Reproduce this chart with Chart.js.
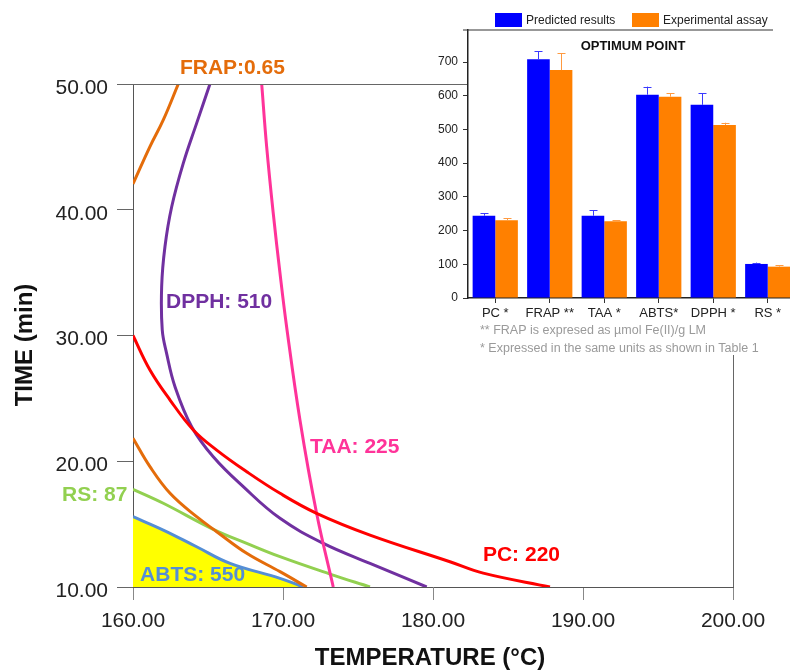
<!DOCTYPE html>
<html>
<head>
<meta charset="utf-8">
<script src="https://cdn.jsdelivr.net/npm/chart.js@4.4.1/dist/chart.umd.min.js"></script>
<style>
  html,body{margin:0;padding:0;background:#fff;overflow:hidden}
  #wrap{position:relative;width:790px;height:671px;overflow:hidden}
  #main{position:absolute;left:0;top:0}
  #inset{position:absolute;left:430px;top:0}
</style>
</head>
<body>
<div id="wrap">
  <canvas id="main" width="790" height="671"></canvas>
  <canvas id="inset" width="400" height="365"></canvas>
</div>
<script>
// ===================== DATA =====================
// contour curves (temperature °C, time min)
const pcTemp   = [160, 161.13, 162.47, 164.02, 165.58, 167.58, 169.8, 172.24, 175.8, 181.13, 183.35, 187.8];
const pcTime   = [30, 27.26, 24.87, 22.49, 20.89, 19.17, 17.45, 15.86, 14.13, 12.01, 11.1, 10];
const dpphTemp = [165.13, 164.24, 163.35, 162.58, 162.13, 161.91, 161.95, 162.24, 162.8, 163.91, 165.35, 167.35, 169.8, 172.69, 175.8, 179.58];
const dpphTime = [50, 46.87, 43.69, 40.24, 37.06, 33.88, 30.44, 28.58, 25.93, 22.75, 20.36, 17.98, 15.46, 13.47, 11.88, 10];
const taaTemp  = [168.58, 168.91, 169.35, 169.8, 170.24, 171.13, 172.24, 173.35];
const taaTime  = [50, 45.02, 39.72, 34.95, 30.7, 23.28, 15.86, 10];
const frapUpTemp = [160, 161.13, 162.02, 163.02];
const frapUpTime = [42.05, 45.02, 47.14, 50];
const frapLoTemp = [160, 161.13, 162.47, 164.24, 165.58, 167.58, 169.8, 171.58];
const frapLoTime = [21.83, 19.57, 17.45, 15.59, 14.4, 12.68, 11.22, 10];
const rsTemp   = [160, 162.02, 165.35, 167.58, 169.8, 173.13, 175.8];
const rsTime   = [17.77, 16.66, 14.59, 13.47, 12.41, 11.03, 10];
const abtsTemp = [160, 162.02, 164.24, 166.47, 169.8, 171.35];
const abtsTime = [15.59, 14.53, 13.2, 11.88, 10.69, 10];

const xTicks = [160, 170, 180, 190, 200];
const yTicks = [10, 20, 30, 40, 50];

// inset: optimum point
const cats      = ['PC *', 'FRAP **', 'TAA *', 'ABTS*', 'DPPH *', 'RS *'];
const predicted = [244, 708, 244, 603, 573, 101];
const predErr   = [251, 732, 261, 627, 607, 105];
const experim   = [231, 676, 228, 597, 513, 93];
const expErr    = [236, 726, 230, 607, 520, 97];
const insetTicks = [0, 100, 200, 300, 400, 500, 600, 700];

const FONT = '"Liberation Sans", Arial, sans-serif';
const pts = (xs, ys) => xs.map((x, i) => ({x, y: ys[i]}));

// contour labels: text, colour, anchor in data coords (left / middle)
const curveLabels = [
  {t:'FRAP:0.65', c:'#e46c0a', x:163.13, y:51.27},
  {t:'DPPH: 510', c:'#7030a0', x:162.2,  y:32.66},
  {t:'TAA: 225',  c:'#ff3399', x:171.8,  y:21.13},
  {t:'RS: 87',    c:'#92d050', x:155.27, y:17.3},
  {t:'ABTS: 550', c:'#558ed5', x:160.47, y:10.95},
  {t:'PC: 220',   c:'#ff0000', x:183.33, y:12.54}
];

// ===================== MAIN CHART =====================
const line = (data, color, extra) => Object.assign({
  data, borderColor: color, borderWidth: 3, pointRadius: 0,
  tension: 0.4, fill: false
}, extra || {});

const mainDecor = {
  id: 'mainDecor',
  afterDatasetsDraw(chart){
    const {ctx, chartArea:a, scales:{x, y}} = chart;
    ctx.save();
    ctx.strokeStyle = '#666'; ctx.lineWidth = 1;
    ctx.beginPath();
    ctx.moveTo(a.left, a.top + .5); ctx.lineTo(a.right, a.top + .5);
    ctx.moveTo(a.right + .5, a.top); ctx.lineTo(a.right + .5, a.bottom);
    ctx.stroke();
    ctx.font = 'bold 21px ' + FONT;
    ctx.textBaseline = 'middle'; ctx.textAlign = 'left';
    curveLabels.forEach(l => {
      ctx.fillStyle = l.c;
      ctx.fillText(l.t, x.getPixelForValue(l.x), y.getPixelForValue(l.y));
    });
    // axis titles
    ctx.fillStyle = '#111';
    ctx.font = 'bold 24px ' + FONT;
    ctx.textAlign = 'center';
    ctx.fillText('TEMPERATURE (°C)', 430, 658);
    ctx.translate(25, 345); ctx.rotate(-Math.PI / 2);
    ctx.fillText('TIME (min)', 0, 0);
    ctx.restore();
  }
};

new Chart(document.getElementById('main'), {
  type: 'line',
  data: {
    datasets: [
      line(pts(pcTemp, pcTime), '#ff0000'),
      line(pts(taaTemp, taaTime), '#ff3399'),
      line(pts(dpphTemp, dpphTime), '#7030a0'),
      line(pts(frapUpTemp, frapUpTime), '#e46c0a'),
      line(pts(frapLoTemp, frapLoTime), '#e46c0a'),
      line(pts(rsTemp, rsTime), '#92d050'),
      line(pts(abtsTemp, abtsTime), '#558ed5', {fill: 'start', backgroundColor: '#ffff00'})
    ]
  },
  options: {
    responsive: false, animation: false,
    layout: {padding: {left: 0, top: 84, right: 57, bottom: 0}},
    plugins: {legend: {display: false}, tooltip: {enabled: false}},
    scales: {
      x: {
        type: 'linear', min: 160, max: 200,
        afterFit: s => { s.height = 84; },
        afterBuildTicks: s => { s.ticks = xTicks.map(v => ({value: v})); },
        ticks: {callback: v => v.toFixed(2), color: '#222', font: {family: FONT, size: 21}, padding: 9, maxRotation: 0},
        grid: {drawOnChartArea: false, tickLength: 13, color: '#888'},
        border: {color: '#555', width: 1}
      },
      y: {
        type: 'linear', min: 10, max: 50,
        afterFit: s => { s.width = 133; },
        afterBuildTicks: s => { s.ticks = yTicks.map(v => ({value: v})); },
        ticks: {callback: v => v.toFixed(2), color: '#222', font: {family: FONT, size: 21}, padding: 9, labelOffset: 4},
        grid: {drawOnChartArea: false, tickLength: 16, color: '#666'},
        border: {color: '#555', width: 1}
      }
    }
  },
  plugins: [mainDecor]
});

// ===================== INSET =====================
const insetDecor = {
  id: 'insetDecor',
  beforeDraw(chart){
    const {ctx, chartArea:a} = chart;
    ctx.save();
    ctx.fillStyle = '#fff';
    ctx.fillRect(a.left, 0, chart.width - a.left, 355);
    ctx.restore();
  },
  afterDatasetsDraw(chart){
    const {ctx, chartArea:a, scales:{y}} = chart;
    ctx.save();
    // error bars
    [[1, experim, expErr, '#ff9a40'], [0, predicted, predErr, '#3a3aff']].forEach(([di, vals, errs, col]) => {
      const meta = chart.getDatasetMeta(di);
      ctx.strokeStyle = col; ctx.lineWidth = 1;
      meta.data.forEach((bar, i) => {
        const xx = Math.round(bar.x) + .5, y0 = y.getPixelForValue(vals[i]), y1 = y.getPixelForValue(errs[i]);
        ctx.beginPath();
        ctx.moveTo(xx, y0); ctx.lineTo(xx, y1);
        ctx.moveTo(xx - 4, Math.round(y1) + .5); ctx.lineTo(xx + 4, Math.round(y1) + .5);
        ctx.stroke();
      });
    });
    // top frame line
    ctx.strokeStyle = '#333'; ctx.lineWidth = 1.2;
    ctx.beginPath(); ctx.moveTo(a.left - 5, a.top); ctx.lineTo(343, a.top); ctx.stroke();
    // title
    ctx.fillStyle = '#111'; ctx.font = 'bold 13px ' + FONT;
    ctx.textAlign = 'center'; ctx.textBaseline = 'middle';
    ctx.fillText('OPTIMUM POINT', 203, 46);
    // legend
    ctx.textAlign = 'left'; ctx.font = '12px ' + FONT;
    [['Predicted results', '#0000ff', 65], ['Experimental assay', '#ff8000', 202]].forEach(([t, c, lx]) => {
      ctx.fillStyle = c; ctx.fillRect(lx, 13, 27, 14);
      ctx.fillStyle = '#222'; ctx.fillText(t, lx + 31, 20.5);
    });
    // footnotes
    ctx.fillStyle = '#9a9a9a'; ctx.font = '12.5px ' + FONT;
    ctx.fillText('** FRAP is expresed as \u00b5mol Fe(II)/g LM', 50, 331);
    ctx.fillText('* Expressed in the same units as shown in Table 1', 50, 349);
    ctx.restore();
  }
};

new Chart(document.getElementById('inset'), {
  type: 'bar',
  data: {
    labels: cats,
    datasets: [
      {label: 'Predicted results', data: predicted, backgroundColor: '#0000ff', categoryPercentage: 0.83, barPercentage: 1},
      {label: 'Experimental assay', data: experim, backgroundColor: '#ff8000', categoryPercentage: 0.83, barPercentage: 1}
    ]
  },
  options: {
    responsive: false, animation: false,
    layout: {padding: {left: 0, top: 30, right: 35, bottom: 0}},
    plugins: {legend: {display: false}, tooltip: {enabled: false}},
    scales: {
      x: {
        afterFit: s => { s.height = 67; },
        ticks: {color: '#222', font: {family: FONT, size: 13}, padding: 3, maxRotation: 0, autoSkip: false},
        grid: {drawOnChartArea: false, offset: false, tickLength: 5, color: '#333'},
        border: {color: '#222', width: 1.5}
      },
      y: {
        min: 0, max: 795,
        afterFit: s => { s.width = 38; },
        afterBuildTicks: s => { s.ticks = insetTicks.map(v => ({value: v})); },
        ticks: {color: '#222', font: {family: FONT, size: 12}, padding: 5},
        grid: {drawOnChartArea: false, tickLength: 5, color: '#333'},
        border: {color: '#222', width: 1.5}
      }
    }
  },
  plugins: [insetDecor]
});
</script>
</body>
</html>
